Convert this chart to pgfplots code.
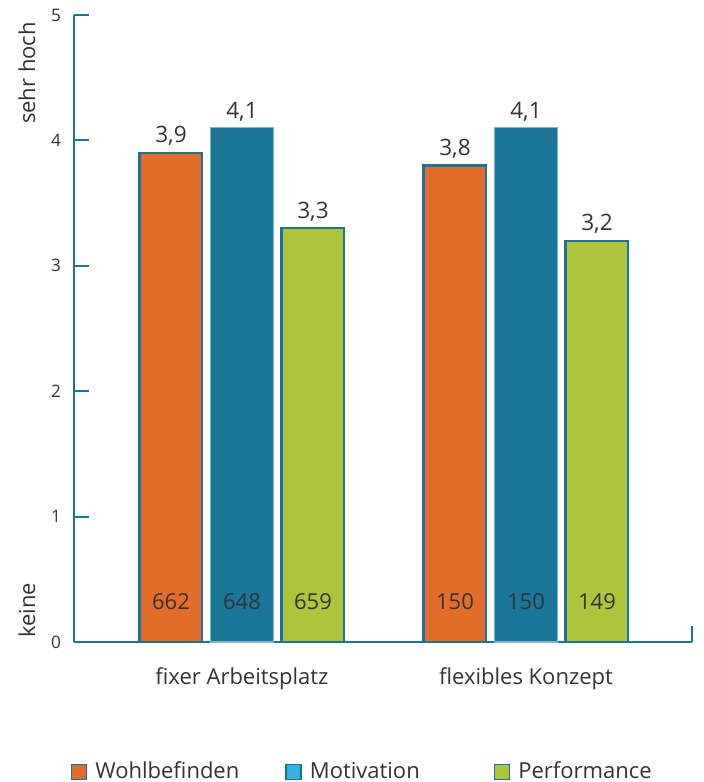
\documentclass[border=0pt]{standalone}
\usepackage{fontspec}
\setmainfont{Open Sans}
\usepackage{pgfplots}
\pgfplotsset{compat=1.18}
\usepackage{pgfplotstable}
\definecolor{cTeal}{HTML}{1B7399}
\definecolor{cOrange}{HTML}{E36C2B}
\definecolor{cBlue}{HTML}{1B7699}
\definecolor{cBlueEdge}{HTML}{7DB8D0}
\definecolor{cGreen}{HTML}{AEC43A}
\definecolor{cLegBlue}{HTML}{36B1DF}
\definecolor{cText}{HTML}{333333}
\pgfplotstableread{
x y c n
1 3.9 0.32 662
2 3.8 0.32 150
}\wohl
\pgfplotstableread{
x y c n
1 4.1 0.32 648
2 4.1 0.32 150
}\motiv
\pgfplotstableread{
x y c n
1 3.3 0.32 659
2 3.2 0.32 149
}\perf
\begin{document}
\begin{tikzpicture}
\useasboundingbox (0,0) rectangle (351.5pt,391pt);
\begin{axis}[
  at={(37pt,70pt)}, anchor=south west,
  scale only axis, width=309pt, height=313.5pt,
  xmin=0.4085, xmax=2.5845, ymin=0, ymax=5,
  clip=false,
  axis x line*=bottom, axis y line*=left,
  axis line style={cTeal, line width=1.1pt},
  xtick={1,2}, xticklabels={fixer Arbeitsplatz, flexibles Konzept},
  x tick style={draw=none},
  ytick={0,1,2,3,4,5},
  y tick style={cTeal, line width=1pt},
  tick align=inside, major tick length=7.5pt,
  /pgf/number format/assume math mode=true,
  yticklabel style={font=\fontsize{8.6}{10}\selectfont, text=cText, xshift=-3pt},
  xticklabel style={font=\fontsize{11}{13}\selectfont, text=cText, yshift=-9.5pt},
  bar width=31.3pt,
  legend columns=3,
  legend style={at={(0.468,0)}, anchor=center, yshift=-65pt, draw=none,
    font=\fontsize{11}{13}\selectfont, text=cText,
    /tikz/every odd column/.style={column sep=2pt},
    /tikz/column 2/.style={column sep=21pt},
    /tikz/column 4/.style={column sep=35pt}},
  legend image code/.code={\draw[#1] (0pt,-3.75pt) rectangle (7.5pt,3.75pt);},
]
\addlegendimage{fill=cOrange, draw=cTeal, line width=0.8pt}
\addlegendentry{Wohlbefinden}
\addlegendimage{fill=cLegBlue, draw=cTeal, line width=0.8pt}
\addlegendentry{Motivation}
\addlegendimage{fill=cGreen, draw=cTeal, line width=0.8pt}
\addlegendentry{Performance}

\pgfplotsset{vlab/.style={nodes near coords={\pgfmathprintnumber[use comma,fixed,fixed zerofill,precision=1]{\pgfplotspointmeta}},
  nodes near coords style={font=\fontsize{11.3}{13}\selectfont, text=cText, inner sep=3pt, xshift=#1}}}
\addplot[ybar, bar shift=-35.5pt, fill=cOrange, draw=cTeal, line width=1.2pt, forget plot, vlab=-35.5pt] table[x=x,y=y] {\wohl};
\addplot[ybar, bar shift=0pt, fill=cBlue, draw=cBlueEdge, line width=0.6pt, forget plot, vlab=0pt] table[x=x,y=y] {\motiv};
\addplot[ybar, bar shift=35.5pt, fill=cGreen, draw=cTeal, line width=1.2pt, forget plot, vlab=35.5pt] table[x=x,y=y] {\perf};

\pgfplotsset{clab/.style={draw=none, mark=none, forget plot, nodes near coords, point meta=explicit symbolic,
  nodes near coords style={anchor=center, font=\fontsize{11}{13}\selectfont, text=cText, xshift=#1}}}
\addplot[clab=-35.5pt] table[x=x,y=c,meta=n] {\wohl};
\addplot[clab=0pt] table[x=x,y=c,meta=n] {\motiv};
\addplot[clab=35.5pt] table[x=x,y=c,meta=n] {\perf};

\draw[cTeal, line width=1.1pt] (axis cs:2.5845,0) -- (axis cs:2.5845,0.13);
\node[rotate=90, anchor=east, font=\fontsize{11}{13}\selectfont, text=cText] at ([xshift=-23.5pt]axis cs:0.4085,5) {sehr hoch};
\node[rotate=90, anchor=west, font=\fontsize{11}{13}\selectfont, text=cText] at ([xshift=-23.5pt, yshift=-1.5pt]axis cs:0.4085,0) {keine};
\end{axis}
\end{tikzpicture}
\end{document}
